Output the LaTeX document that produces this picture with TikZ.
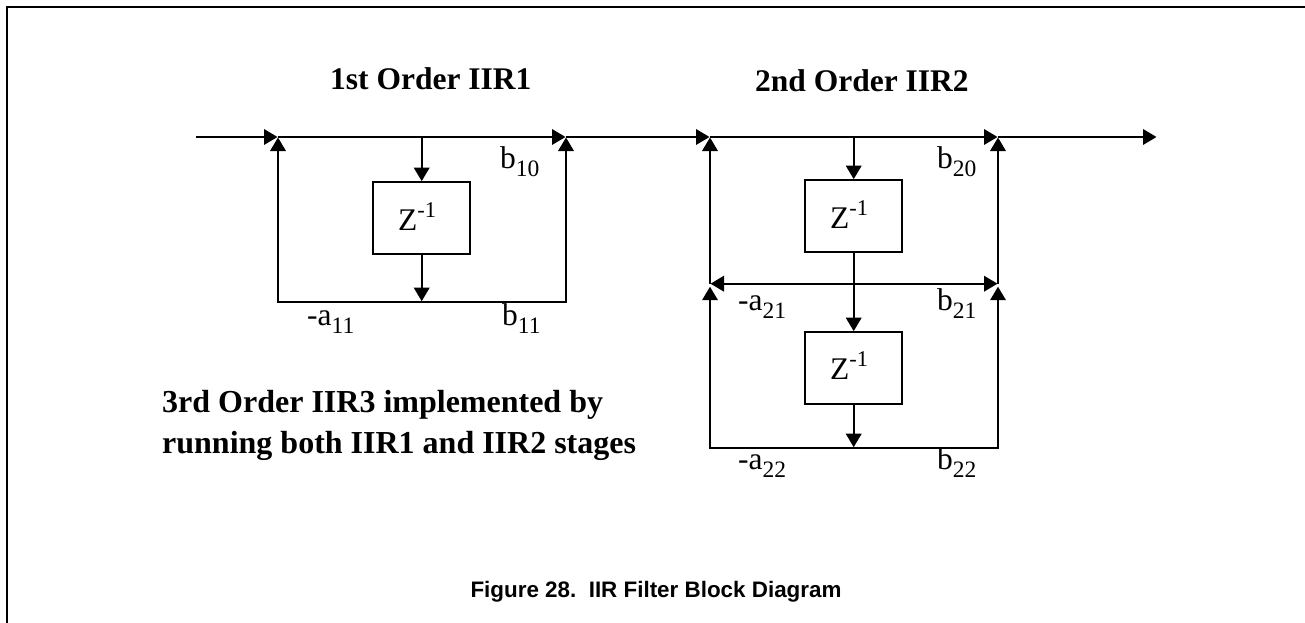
\documentclass[tikz,border=0pt]{standalone}
\usepackage{fontspec}
\setmainfont{Liberation Serif}
\setsansfont{Liberation Sans}
\usetikzlibrary{arrows.meta}
\tikzset{
  x=1pt,y=-1pt,
  wire/.style={line width=2pt,line cap=butt},
  arr/.style={wire,-{Triangle[length=13.5pt,width=15.5pt]},shorten >=0.5pt},
  arrmid/.style={arr,shorten >=3pt},
  delay/.style={draw,line width=2pt,minimum width=96.5pt,minimum height=72.3pt,inner sep=0pt,outer sep=0pt},
  lab/.style={font=\fontsize{31.5}{31.5}\selectfont,inner sep=0pt,anchor=base west},
  ttl/.style={font=\fontsize{31.5}{36}\selectfont\bfseries,inner sep=0pt,anchor=base west},
  ttlb/.style={ttl,font=\fontsize{32}{36}\selectfont\bfseries},
}
\newcommand{\lsub}[2]{#1\raisebox{-8pt}{\fontsize{23.5}{23.5}\selectfont #2}}
\newcommand{\zinv}{Z\raisebox{13pt}{\fontsize{22.5}{22.5}\selectfont -1}}
\begin{document}
\begin{tikzpicture}
\useasboundingbox (0,0) rectangle (1305,623);
% frame
\coordinate (fbl) at (7,623); \coordinate (ftl) at (7,7); \coordinate (ftr) at (1305,7);
\draw[line width=2pt] (fbl) -- (ftl) -- (ftr);
% junctions
\coordinate (in) at (196,137);
\coordinate (j1) at (278,137);
\coordinate (t1) at (421.7,137);
\coordinate (j2) at (566,137);
\coordinate (j3) at (710,137);
\coordinate (t2) at (853.7,137);
\coordinate (j4) at (998,137);
\coordinate (out) at (1157,137);
\coordinate (m1) at (710,283.7);
\coordinate (mc) at (853.7,283.7);
\coordinate (m2) at (998,283.7);
\coordinate (bc1) at (421.7,301.7);
\coordinate (bc2) at (853.7,447.7);
% delay boxes
\node[delay] (z1) at (421.7,217.8) {};
\node[delay] (z2) at (853.7,215.8) {};
\node[delay] (z3) at (853.7,367.8) {};
\node[lab] (z1t) at (398,230) {\zinv};
\node[lab] (z2t) at (830,228) {\zinv};
\node[lab] (z3t) at (830,379) {\zinv};
% main line
\draw[arr] (in) -- (j1);
\draw[arr] (j1) -- (j2);
\draw[arr] (j2) -- (j3);
\draw[arr] (j3) -- (j4);
\draw[arr] (j4) -- (out);
% stage 1
\draw[arr] (t1) -- (z1.north);
\draw[arr] (z1.south) -- (bc1);
\draw[arr] (bc1) -| (j1);
\draw[arr] (bc1) -| (j2);
% stage 2
\draw[arr] (t2) -- (z2.north);
\draw[wire] (z2.south) -- (mc);
\draw[arr] (mc) -- (z3.north);
\draw[arr] (z3.south) -- (bc2);
\draw[arr] (mc) -- (m1);
\draw[arr] (mc) -- (m2);
\draw[arr] (m1) -- (j3);
\draw[arr] (m2) -- (j4);
\draw[arrmid] (bc2) -| (m1);
\draw[arrmid] (bc2) -| (m2);
% labels
\node[lab] (b10) at (500,168) {\lsub{b}{10}};
\node[lab] (b20) at (937,168) {\lsub{b}{20}};
\node[lab] (b11) at (502,325) {\lsub{b}{11}};
\node[lab] (a11) at (307,325) {\lsub{-a}{11}};
\node[lab] (a21) at (738,310) {\lsub{-a}{21}};
\node[lab] (b21) at (937,310) {\lsub{b}{21}};
\node[lab] (a22) at (738,469) {\lsub{-a}{22}};
\node[lab] (b22) at (937,469) {\lsub{b}{22}};
% titles
\node[ttl] (t1t) at (330,90) {1st Order IIR1};
\node[ttl] (t2t) at (755,92) {2nd Order IIR2};
\node[ttlb] (t3t) at (162,412) {3rd Order IIR3 implemented by};
\node[ttlb] (t4t) at (162,453) {running both IIR1 and IIR2 stages};
\node[font=\sffamily\bfseries\fontsize{22.4}{26}\selectfont,inner sep=0pt,anchor=base] (cap) at (656,597) {Figure 28.\ \ IIR Filter Block Diagram};
\end{tikzpicture}
\end{document}
